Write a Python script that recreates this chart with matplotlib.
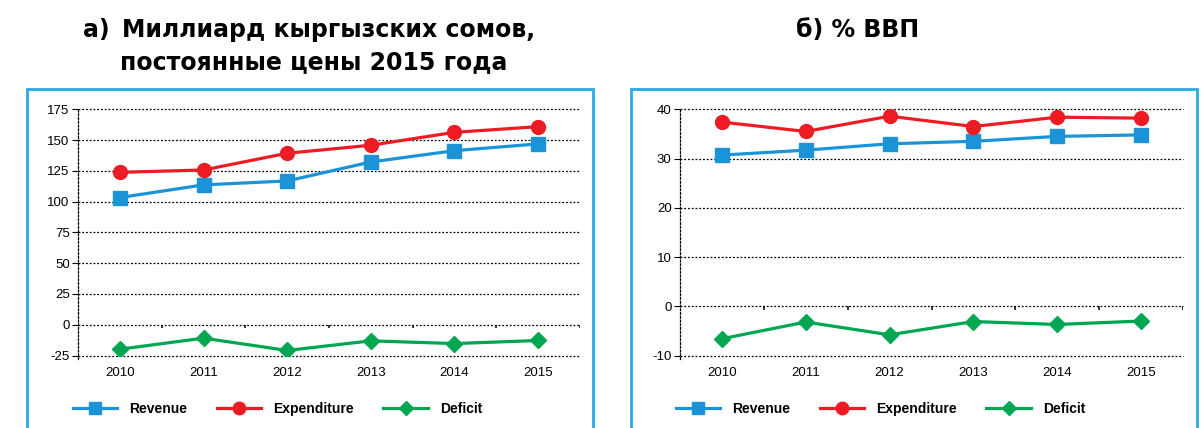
import matplotlib.pyplot as plt
from matplotlib.patches import Rectangle
from matplotlib.lines import Line2D

# Data
years = ['2010', '2011', '2012', '2013', '2014', '2015']

# a) billion KGS, constant 2015 prices
revenue_som = [103.3, 113.6, 116.8, 132.2, 141.4, 146.9]
expenditure_som = [123.8, 125.7, 139.3, 145.8, 156.3, 160.9]
deficit_som = [-19.9, -10.9, -20.9, -13.1, -15.3, -12.8]

# b) % of GDP
revenue_gdp = [30.7, 31.7, 33.0, 33.5, 34.5, 34.8]
expenditure_gdp = [37.4, 35.5, 38.6, 36.5, 38.4, 38.2]
deficit_gdp = [-6.6, -3.2, -5.8, -3.1, -3.7, -3.0]

series_names = ['Revenue', 'Expenditure', 'Deficit']
colors = ['#1a94d6', '#ed1c24', '#00a651']
markers = ['s', 'o', 'D']
msizes = [9.5, 10, 8.5]

W, H = 1202, 428
fig = plt.figure(figsize=(W / 100, H / 100), dpi=100)

tick_font = ['Liberation Sans', 'DejaVu Sans']
title_font = ['DejaVu Sans']


def fx(px):
    return px / W


def fy(py):
    return 1 - py / H


def draw_panel(x0, x1, series, ylim, yticks, legend_x):
    ax = fig.add_axes([fx(x0), fy(355.5), fx(x1 - x0), (355.5 - 109.3) / H])
    x = list(range(len(years)))
    for vals, c, m, ms in zip(series, colors, markers, msizes):
        ax.plot(x, vals, color=c, lw=2.3, marker=m, ms=ms, zorder=3)
    ax.set_xlim(-0.5, len(years) - 0.5)
    ax.set_ylim(*ylim)
    ax.set_yticks(yticks)
    ax.set_yticklabels([str(t) for t in yticks], family=tick_font, fontsize=9.5)
    ax.set_xticks(x)
    ax.set_xticklabels(years, family=tick_font, fontsize=9.5)
    ax.tick_params(axis='x', length=0, pad=8)
    ax.tick_params(axis='y', length=4, width=0.8, pad=2)
    for t in yticks:
        ax.axhline(t, color='black', lw=0.9, ls=(0, (1.5, 1.5)), zorder=1,
                   clip_on=False)
    for s in ['top', 'right', 'bottom']:
        ax.spines[s].set_visible(False)
    ax.spines['left'].set_linestyle((0, (1.5, 1.5)))
    ax.spines['left'].set_linewidth(0.9)
    ax.spines['left'].set_bounds(ylim[0] - (ylim[1] - ylim[0]) * 0.015, ylim[1])
    # category boundary ticks on the zero line
    span = ylim[1] - ylim[0]
    ax.vlines([i + 0.5 for i in x], 0, -span * 0.014, color='black', lw=1.1)
    ax.patch.set_alpha(0)

    handles = [Line2D([], [], color=c, lw=2.3, marker=m, ms=ms - 1)
               for c, m, ms in zip(colors, markers, msizes)]
    fig.legend(handles, series_names, loc='center left',
               bbox_to_anchor=(fx(legend_x), fy(409)), ncol=3, frameon=False,
               handlelength=3.2, columnspacing=2.1, handletextpad=0.9,
               prop={'family': tick_font, 'weight': 'bold', 'size': 10})
    return ax


# panel frames
for bx0, bx1 in [(27, 593), (631, 1197)]:
    fig.add_artist(Rectangle((fx(bx0), fy(440)), fx(bx1 - bx0), (440 - 89) / H,
                             transform=fig.transFigure, fill=False,
                             edgecolor='#29abe2', lw=2))

draw_panel(78, 580, [revenue_som, expenditure_som, deficit_som],
           (-25, 175), [-25, 0, 25, 50, 75, 100, 125, 150, 175], 60)
draw_panel(680, 1183, [revenue_gdp, expenditure_gdp, deficit_gdp],
           (-10, 40), [-10, 0, 10, 20, 30, 40], 663)

tkw = dict(family=title_font, fontweight='bold', fontsize=17, va='center')
fig.text(fx(83), fy(30), 'а)', ha='left', **tkw)
fig.text(fx(122), fy(30), 'Миллиард кыргызских сомов,', ha='left', **tkw)
fig.text(fx(120), fy(62), 'постоянные цены 2015 года', ha='left', **tkw)
fig.text(fx(796), fy(30), 'б) % ВВП', ha='left', **tkw)

fig.savefig('out.png', dpi=100)
